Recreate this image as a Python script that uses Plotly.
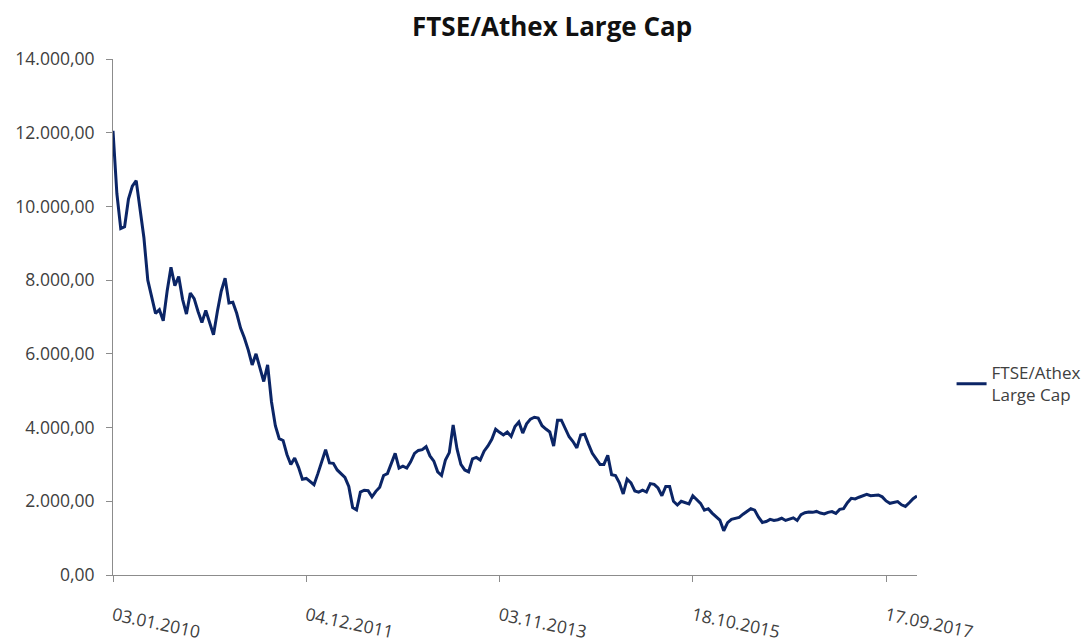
import pandas as pd
import plotly.graph_objects as go

series_name = "FTSE/Athex Large Cap"
start_date = "2010-01-03"
tick_labels = ["03.01.2010", "04.12.2011", "03.11.2013", "18.10.2015", "17.09.2017"]
tick_index = [0, 50, 100, 150, 200]

values = [
    12050, 10350, 9400, 9450, 10200, 10550, 10700, 9850, 9150, 8000,
    7550, 7100, 7200, 6900, 7700, 8350, 7850, 8100, 7480, 7080,
    7650, 7500, 7150, 6850, 7180, 6850, 6520, 7150, 7700, 8050,
    7380, 7400, 7100, 6700, 6430, 6100, 5700, 6000, 5650, 5250,
    5700, 4700, 4050, 3700, 3650, 3270, 3000, 3175, 2920, 2600,
    2620, 2530, 2450, 2750, 3100, 3400, 3040, 3030, 2850, 2740,
    2650, 2400, 1830, 1765, 2250, 2300, 2290, 2120, 2270, 2380,
    2700, 2750, 3030, 3300, 2900, 2950, 2900, 3070, 3300, 3380,
    3400, 3480, 3230, 3090, 2800, 2700, 3120, 3320, 4070, 3420,
    3000, 2850, 2800, 3150, 3190, 3120, 3360, 3500, 3680, 3955,
    3870, 3800, 3880, 3760, 4030, 4150, 3850, 4100, 4230, 4280,
    4260, 4050, 3960, 3880, 3500, 4200, 4200, 3980, 3750, 3620,
    3450, 3800, 3820, 3550, 3300, 3150, 3000, 3000, 3250, 2720,
    2700, 2500, 2200, 2600, 2500, 2280, 2250, 2300, 2250, 2480,
    2460, 2360, 2150, 2400, 2400, 2000, 1900, 2000, 1960, 1930,
    2150, 2050, 1945, 1760, 1800, 1680, 1580, 1490, 1200, 1420,
    1510, 1530, 1560, 1650, 1720, 1800, 1760, 1570, 1425, 1450,
    1510, 1480, 1500, 1540, 1480, 1510, 1550, 1480, 1640, 1690,
    1710, 1700, 1725, 1680, 1655, 1700, 1720, 1670, 1780, 1800,
    1960, 2080, 2065, 2110, 2145, 2190, 2150, 2160, 2170, 2120,
    2010, 1945, 1970, 1990, 1905, 1860, 1960, 2070, 2145,
]

dates = pd.date_range(start_date, periods=len(values), freq="14D")
tick_vals = [dates[i] for i in tick_index]

FONT = "Open Sans"
TXT = "#404040"
AXIS = "#8c8c8c"

fig = go.Figure()
fig.add_trace(go.Scatter(
    x=dates, y=values, mode="lines",
    name="FTSE/Athex<br>Large Cap",
    line=dict(color="#0b2566", width=3),
))

fig.update_layout(
    width=1089, height=643,
    paper_bgcolor="white", plot_bgcolor="white",
    separators=",.",
    margin=dict(l=113, r=172, t=59, b=68, autoexpand=False),
    title=dict(text="<b>FTSE/Athex Large Cap</b>", x=0.507, xanchor="center",
               y=0.958, yanchor="middle",
               font=dict(family=FONT, size=26, color="#111111")),
    showlegend=True,
    legend=dict(x=1.043, xanchor="left", y=0.37, yanchor="middle",
                font=dict(family=FONT, size=17, color=TXT),
                itemwidth=30, bgcolor="rgba(0,0,0,0)"),
    xaxis=dict(
        type="date", range=[dates[0], dates[-1]], automargin=False,
        tickmode="array", tickvals=tick_vals, ticktext=tick_labels,
        tickangle=12, ticks="outside", ticklen=6, tickcolor=AXIS,
        showline=True, linecolor=AXIS, linewidth=1,
        showgrid=False, zeroline=False,
        ticklabelstandoff=17,
        tickfont=dict(family=FONT, size=17.5, color=TXT),
    ),
    yaxis=dict(
        range=[0, 14000], tickmode="linear", tick0=0, dtick=2000, automargin=False,
        tickformat=",.2f", ticks="outside", ticklen=6, tickcolor=AXIS,
        showline=True, linecolor=AXIS, linewidth=1,
        showgrid=False, zeroline=False,
        ticklabelstandoff=8,
        tickfont=dict(family=FONT, size=17.5, color=TXT),
    ),
)

fig.write_html("out.html")
